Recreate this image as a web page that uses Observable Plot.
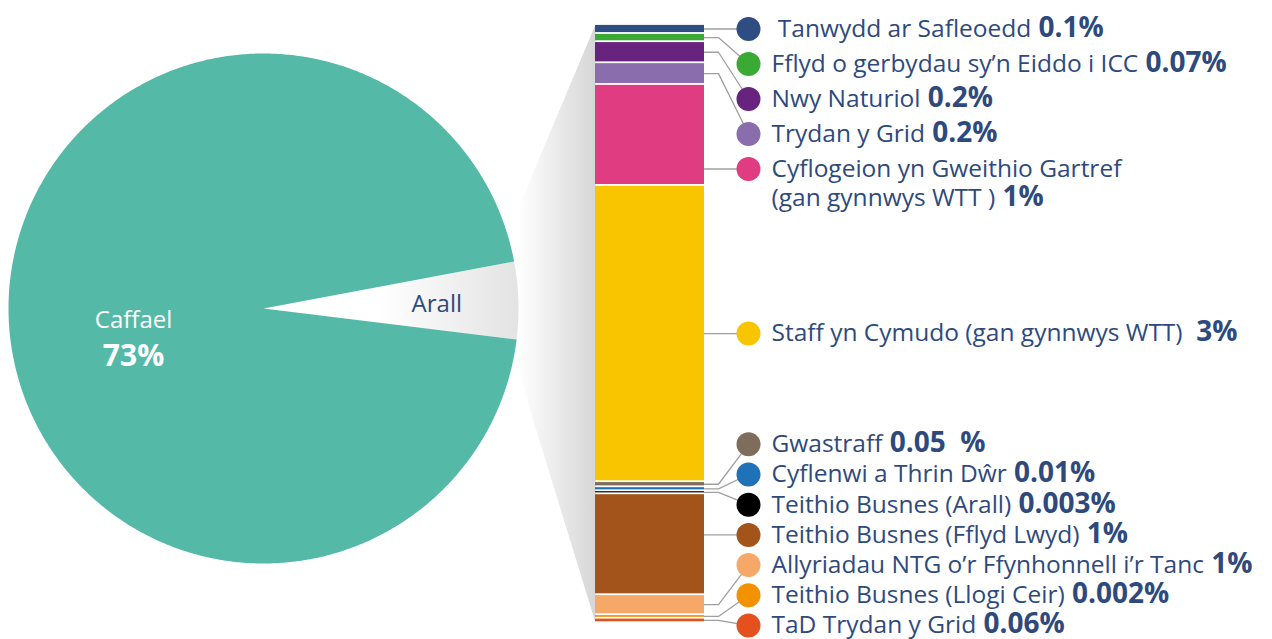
<!DOCTYPE html>
<html>
<head>
<meta charset="utf-8">
<script src="https://cdn.jsdelivr.net/npm/d3@7"></script>
<script src="https://cdn.jsdelivr.net/npm/@observablehq/plot@0.6"></script>
<style>
  html, body { margin: 0; padding: 0; background: #ffffff; }
  #chart svg { display: block; }
</style>
</head>
<body>
<div id="chart"></div>
<script>
// ---------------- DATA ----------------
// Pie (share of the circle as drawn, %), labels as printed
const pieCategories = ["Arall", "Caffael"];
const pieShares = [4.88, 95.12];
const piePercentText = ["", "73%"];

// Breakdown of "Arall" (share of the bar as drawn)
const barCategories = [
  " Tanwydd ar Safleoedd",
  "Fflyd o gerbydau sy\u2019n Eiddo i ICC",
  "Nwy Naturiol",
  "Trydan y Grid",
  "Cyflogeion yn Gweithio Gartref\n(gan gynnwys WTT )",
  "Staff yn Cymudo (gan gynnwys WTT) ",
  "Gwastraff",
  "Cyflenwi a Thrin D\u0175r",
  "Teithio Busnes (Arall)",
  "Teithio Busnes (Fflyd Lwyd)",
  "Allyriadau NTG o\u2019r Ffynhonnell i\u2019r Tanc",
  "Teithio Busnes (Llogi Ceir)",
  "TaD Trydan y Grid"
];
const barShares = [0.09, 0.082, 0.211, 0.217, 1.01, 2.965, 0.051, 0.04, 0.03, 1.01, 0.2, 0.035, 0.045];
const barPercentText = ["0.1%", "0.07%", "0.2%", "0.2%", "1%", "3%", "0.05  %", "0.01%", "0.003%", "1%", "1%", "0.002%", "0.06%"];
const barColors = ["#2e4d82", "#3aaa35", "#68237f", "#8a6dad", "#e03c82", "#f9c400", "#7f6d5c", "#1f71b8", "#000000", "#a3541a", "#f5a867", "#f29200", "#e5501f"];
const pieColors = ["url(#arallGrad)", "#55b9a8"];

// ---------------- LAYOUT / STYLE ----------------
const W = 1272, H = 639;
const navy = "#2e4a7d";
const pieCx = 263, pieCy = 308, pieR = 255, pieStartDeg = 79.4;
const pieLabelRadius = [0.68, 0.51];
const barX0 = 595, barX1 = 704, barTop = 24, barBottom = 622.2;
const elbowX = 718, dotX = 748, dotR = 12, textX = 771;
const gapTop = 35, gapBottom = 30.2, labelMaxY = H - 14;
const shadeUpperDeg = 73, shadeLowerDeg = 101;
const labelFont = 24.5, pctFont = 28;

// Plot scales that place the pie (unit circle) and the bar (cumulative share)
const pieX = Plot.scale({x: {domain: [-1, 1], range: [pieCx - pieR, pieCx + pieR]}});
const pieY = Plot.scale({y: {domain: [-1, 1], range: [pieCy + pieR, pieCy - pieR]}});
const barTotal = d3.sum(barShares);
const barY = Plot.scale({y: {domain: [0, barTotal], range: [barTop, barBottom]}});

function polar(deg, rr = 1) {
  const t = deg * Math.PI / 180;
  return {x: pieX.apply(rr * Math.sin(t)), y: pieY.apply(rr * Math.cos(t))};
}

// Pie slices
const pieTotal = d3.sum(pieShares);
let acc = 0;
const slices = pieCategories.map((name, i) => {
  const a0 = pieStartDeg + acc / pieTotal * 360;
  acc += pieShares[i];
  const a1 = pieStartDeg + acc / pieTotal * 360;
  return {name, a0, a1, mid: (a0 + a1) / 2, color: pieColors[i], pct: piePercentText[i], i};
});
const piePts = slices.flatMap(s => {
  const pts = [{name: s.name, color: s.color, ...polar(0, 0)}];
  const n = Math.ceil((s.a1 - s.a0) / 0.5);
  for (let k = 0; k <= n; k++) pts.push({name: s.name, color: s.color, ...polar(s.a0 + (s.a1 - s.a0) * k / n)});
  return pts;
});
const pieLabels = slices.map(s => {
  const p = polar(s.mid, pieLabelRadius[s.i]);
  return {...s, lx: p.x, ly: p.y};
});

// Bar segments
let cum = 0;
const barRows = barCategories.map((name, i) => {
  const y1 = barY.apply(cum);
  cum += barShares[i];
  const y2 = barY.apply(cum);
  return {name, first: name.split("\n")[0], y1, y2, mid: (y1 + y2) / 2, color: barColors[i], pct: barPercentText[i]};
});

// Label placement: start at segment centre, push apart, keep inside the frame
const staffIndex = barShares.indexOf(d3.max(barShares));
const gapFor = i => (i <= staffIndex ? gapTop : gapBottom);
const ly = barRows.map(d => d.mid);
for (let i = 1; i < ly.length; i++) ly[i] = Math.max(ly[i], ly[i - 1] + gapFor(i));
ly[ly.length - 1] = Math.min(ly[ly.length - 1], labelMaxY);
for (let i = ly.length - 2; i >= 0; i--) ly[i] = Math.min(ly[i], ly[i + 1] - gapFor(i + 1));
barRows.forEach((d, i) => { d.ly = ly[i]; });

const leaderPts = barRows.flatMap(d => {
  const inside = d.ly >= d.y1 && d.ly <= d.y2;
  const sy = inside ? d.ly : d.mid;
  return [
    {name: d.name, x: barX1, y: sy},
    {name: d.name, x: elbowX, y: sy},
    {name: d.name, x: dotX, y: d.ly}
  ];
});

// Shade connecting the "Arall" slice to the bar
const shadePts = [
  {x: barX0, y: barY.apply(0)},
  {x: barX0, y: barY.apply(barTotal)},
  polar(shadeLowerDeg),
  polar(0, 0),
  polar(shadeUpperDeg)
];

const defsMark = () => {
  const defs = d3.create("svg:defs");
  const g1 = defs.append("linearGradient").attr("id", "arallGrad")
    .attr("x1", 0).attr("y1", 0).attr("x2", 1).attr("y2", 0);
  g1.append("stop").attr("offset", 0).attr("stop-color", "#ffffff");
  g1.append("stop").attr("offset", 0.45).attr("stop-color", "#ffffff");
  g1.append("stop").attr("offset", 1).attr("stop-color", "#e3e3e3");
  const g2 = defs.append("linearGradient").attr("id", "shadeGrad")
    .attr("gradientUnits", "userSpaceOnUse")
    .attr("x1", pieCx + pieR).attr("y1", 0).attr("x2", barX0).attr("y2", 0);
  g2.append("stop").attr("offset", 0).attr("stop-color", "#ffffff");
  g2.append("stop").attr("offset", 1).attr("stop-color", "#d6d6d6");
  return defs.node();
};

const chart = Plot.plot({
  width: W,
  height: H,
  margin: 0,
  x: {domain: [0, W], range: [0, W], axis: null},
  y: {domain: [0, H], range: [0, H], axis: null},
  color: {type: "identity"},
  style: {background: "#ffffff", fontFamily: "'Open Sans', sans-serif", overflow: "visible"},
  marks: [
    defsMark,
    Plot.line(shadePts, {x: "x", y: "y", fill: () => "url(#shadeGrad)", stroke: "none", curve: "linear"}),
    Plot.line(piePts, {x: "x", y: "y", z: "name", fill: "color", stroke: "none", curve: "linear"}),
    Plot.rect(barRows, {x1: () => barX0, x2: () => barX1, y1: "y1", y2: "y2", fill: "color", insetTop: 0.9, insetBottom: 0.9}),
    Plot.line(leaderPts, {x: "x", y: "y", z: "name", stroke: "#a0a0a0", strokeWidth: 1.3, curve: "linear"}),
    Plot.dot(barRows, {x: () => dotX, y: "ly", r: dotR, fill: "color", stroke: "none"}),
    Plot.text(barRows, {x: () => textX, y: "ly", text: "first", textAnchor: "start",
      fontSize: labelFont, fill: navy}),
    Plot.text(pieLabels, {x: "lx", y: d => d.ly + (d.pct ? 8 : 1), text: "name", textAnchor: "middle",
      fontSize: 24, fill: d => (d.pct ? "#ffffff" : navy)}),
    Plot.text(pieLabels.filter(d => d.pct), {x: "lx", y: d => d.ly + 44, text: "pct", textAnchor: "middle",
      fontSize: 30, fontWeight: "bold", fill: "#ffffff"})
  ]
});

// Rich text: regular category name + bold percentage, second line where needed
const ns = "http://www.w3.org/2000/svg";
const textEls = Array.from(chart.querySelectorAll("text"));
barRows.forEach(row => {
  const t = textEls.find(el => el.textContent === row.first && !el.dataset.done);
  if (!t) return;
  t.dataset.done = "1";
  const lines = row.name.split("\n");
  const x0 = t.getAttribute("x") || 0;
  t.textContent = "";
  t.setAttribute("xml:space", "preserve");
  t.style.whiteSpace = "pre";
  lines.forEach((line, k) => {
    const ts = document.createElementNS(ns, "tspan");
    if (k > 0) { ts.setAttribute("x", x0); ts.setAttribute("dy", "1.2em"); }
    ts.textContent = line;
    t.appendChild(ts);
  });
  const b = document.createElementNS(ns, "tspan");
  b.setAttribute("font-weight", "bold");
  b.setAttribute("font-size", String(pctFont));
  b.textContent = " " + row.pct;
  t.appendChild(b);
});

document.getElementById("chart").appendChild(chart);
</script>
</body>
</html>
